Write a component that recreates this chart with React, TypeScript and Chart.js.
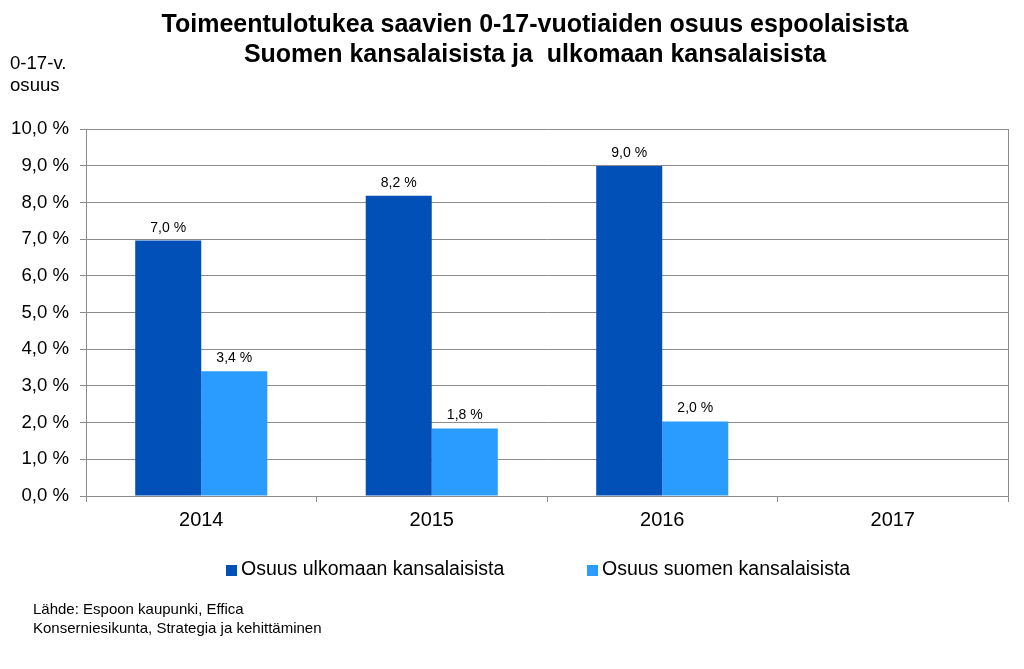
import React, { useEffect, useRef } from 'react';
import { Chart, registerables } from 'chart.js';

Chart.register(...registerables);

const categories = ['2014', '2015', '2016', '2017'];
const foreignShare = [6.96, 8.18, 8.99, null];
const finnishShare = [3.4, 1.84, 2.03, null];
const seriesNames = ['Osuus ulkomaan kansalaisista', 'Osuus suomen kansalaisista'];
const seriesColors = ['#0050B8', '#2A9BFF'];
const titleLines = [
  'Toimeentulotukea saavien 0-17-vuotiaiden osuus espoolaisista',
  'Suomen kansalaisista ja  ulkomaan kansalaisista',
];
const yAxisTitle = ['0-17-v.', 'osuus'];
const sourceLines = ['Lähde: Espoon kaupunki, Effica', 'Konserniesikunta, Strategia ja kehittäminen'];
const yMin = 0;
const yMax = 10;
const yStep = 1;

const FONT = '"Liberation Sans", Arial, sans-serif';

const fmt = (v: number) => v.toFixed(1).replace('.', ',') + ' %';

const overlayPlugin = {
  id: 'overlay',
  afterDraw(chart: any) {
    const ctx = chart.ctx;
    const area = chart.chartArea;
    ctx.save();
    // right border
    ctx.strokeStyle = '#8c8c8c';
    ctx.lineWidth = 1;
    ctx.beginPath();
    ctx.moveTo(Math.round(area.right) + 0.5, area.top);
    ctx.lineTo(Math.round(area.right) + 0.5, area.bottom);
    ctx.stroke();

    // title
    ctx.fillStyle = '#000';
    ctx.textAlign = 'center';
    ctx.textBaseline = 'middle';
    ctx.font = `bold 25px ${FONT}`;
    ctx.fillText(titleLines[0], 535, 25);
    ctx.fillText(titleLines[1], 535, 55);

    // y axis title
    ctx.textAlign = 'left';
    ctx.font = `18.6px ${FONT}`;
    ctx.fillText(yAxisTitle[0], 10, 64);
    ctx.fillText(yAxisTitle[1], 10, 86);

    // data labels
    ctx.font = `14px ${FONT}`;
    ctx.textAlign = 'center';
    ctx.textBaseline = 'alphabetic';
    chart.data.datasets.forEach((ds: any, di: number) => {
      const meta = chart.getDatasetMeta(di);
      meta.data.forEach((el: any, i: number) => {
        const v = ds.data[i];
        if (v == null) return;
        ctx.fillText(fmt(v), el.x, el.y - 9);
      });
    });

    // legend
    const legendX = [226, 587];
    ctx.font = `19.5px ${FONT}`;
    ctx.textBaseline = 'middle';
    ctx.textAlign = 'left';
    seriesNames.forEach((name, i) => {
      ctx.fillStyle = seriesColors[i];
      ctx.fillRect(legendX[i], 565, 11, 11);
      ctx.fillStyle = '#000';
      ctx.fillText(name, legendX[i] + 15, 570);
    });

    // source
    ctx.font = `15px ${FONT}`;
    ctx.fillText(sourceLines[0], 33, 610);
    ctx.fillText(sourceLines[1], 33, 629);
    ctx.restore();
  },
};

export default function App() {
  const ref = useRef<HTMLCanvasElement>(null);
  useEffect(() => {
    if (!ref.current) return;
    const chart = new Chart(ref.current, {
      type: 'bar',
      data: {
        labels: categories,
        datasets: [
          { label: seriesNames[0], data: foreignShare as any, backgroundColor: seriesColors[0], borderWidth: 0 },
          { label: seriesNames[1], data: finnishShare as any, backgroundColor: seriesColors[1], borderWidth: 0 },
        ],
      },
      options: {
        responsive: false,
        animation: false,
        layout: { padding: { top: 129, right: 16, left: 0, bottom: 0 } },
        datasets: { bar: { categoryPercentage: 0.573, barPercentage: 1 } },
        plugins: { legend: { display: false }, title: { display: false }, tooltip: { enabled: false } },
        scales: {
          x: {
            afterFit: (s: any) => { s.height = 173; },
            grid: { display: true, drawOnChartArea: false, drawTicks: true, tickLength: 6, color: '#8c8c8c', offset: true },
            border: { display: true, color: '#8c8c8c' },
            ticks: { color: '#000', font: { family: FONT, size: 20 }, padding: 6 },
          },
          y: {
            min: yMin,
            max: yMax,
            afterFit: (s: any) => { s.width = 86; },
            grid: { color: '#8c8c8c', tickLength: 6, drawTicks: true },
            border: { display: true, color: '#8c8c8c' },
            ticks: {
              stepSize: yStep,
              color: '#000',
              font: { family: FONT, size: 18.6 },
              padding: 11,
              callback: (v: any) => fmt(Number(v)),
            },
          },
        },
      },
      plugins: [overlayPlugin],
    });
    return () => chart.destroy();
  }, []);
  return (
    <div style={{ position: 'absolute', left: 0, top: 0, width: 1024, height: 669, background: '#fff' }}>
      <canvas ref={ref} width={1024} height={669} style={{ display: 'block' }} />
    </div>
  );
}
